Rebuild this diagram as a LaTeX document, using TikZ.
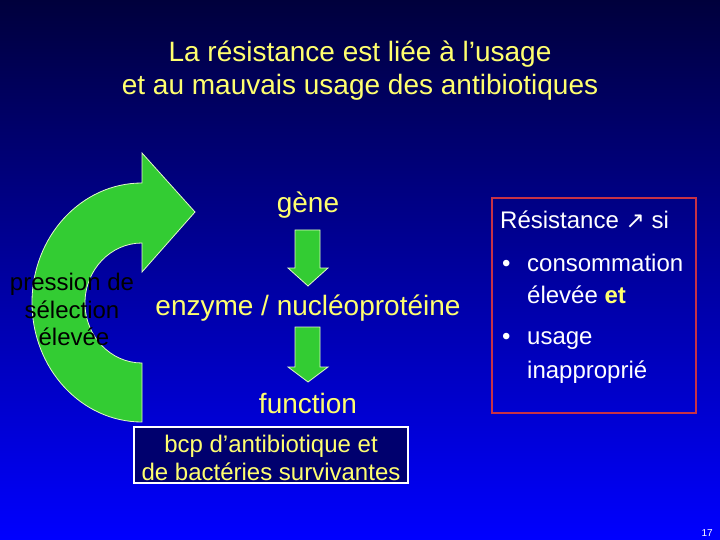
\documentclass[tikz,border=0pt]{standalone}
\usepackage{fontspec}
\setmainfont{Liberation Sans}
\newfontfamily\symfont{DejaVu Sans}
\definecolor{bgtop}{RGB}{0,0,60}
\definecolor{bgbot}{RGB}{0,0,255}
\definecolor{txtyellow}{RGB}{255,255,110}
\definecolor{arrowgreen}{RGB}{51,204,51}
\definecolor{arrowedge}{RGB}{225,250,200}
\definecolor{boxred}{RGB}{200,50,70}
\definecolor{boxnavy}{RGB}{0,0,110}
\tikzset{
  bigtext/.style={text=txtyellow,font=\fontsize{28}{34}\selectfont,inner sep=0pt},
  midtext/.style={text=white,font=\fontsize{24}{28}\selectfont,inner sep=0pt},
  lefttext/.style={text=black,font=\fontsize{24}{28}\selectfont,inner sep=0pt},
  greenarrow/.style={fill=arrowgreen,draw=arrowedge,line width=0.8pt,line join=miter},
  redbox/.style={draw=boxred,line width=2pt},
  navybox/.style={draw=white,fill=boxnavy,line width=1.2pt}
}
\begin{document}
\begin{tikzpicture}[x=1pt,y=-1pt]
\useasboundingbox (0,0) rectangle (720,540);
\shade[top color=bgtop,bottom color=bgbot] (0,0) rectangle (720,540);

% title
\node[bigtext,anchor=base] (t1) at (360,62) {La résistance est liée à l’usage};
\node[bigtext,anchor=base] (t2) at (360,95) {et au mauvais usage des antibiotiques};

% big curved arrow
\draw[greenarrow] (142,422) -- (142,363)
  arc[start angle=90,end angle=270,x radius=57,y radius=60]
  -- (142,272) -- (195,212) -- (142,153) -- (142,183)
  arc[start angle=270,end angle=90,x radius=110,y radius=119.5] -- cycle;

\node[lefttext,anchor=base] (l1) at (72,290) {pression de};
\node[lefttext,anchor=base] (l2) at (72,318) {sélection};
\node[lefttext,anchor=base] (l3) at (74,345) {élevée};

% middle column
\node[bigtext,anchor=base] (gene) at (308,212) {gène};
\node[bigtext,anchor=base] (enz) at (308,315) {enzyme / nucléoprotéine};
\node[bigtext,anchor=base] (func) at (308,413) {function};

\draw[greenarrow] (295,230) -- (320,230) -- (320,268) -- (328,268) -- (308,286) -- (288,268) -- (295,268) -- cycle;
\draw[greenarrow] (295,327) -- (320,327) -- (320,367) -- (328,367) -- (308,382) -- (288,367) -- (295,367) -- cycle;

% right box
\draw[redbox] (492,198) rectangle (696,413);
\node[midtext,anchor=base west] (r0) at (500,229) {Résistance {\symfont\fontsize{23}{26}\selectfont ↗} si};
\node[midtext,anchor=base west] (b1) at (502,271) {•};
\node[midtext,anchor=base west] (r1) at (527,271) {consommation};
\node[midtext,anchor=base west] (r2) at (527,303) {élevée \textcolor{txtyellow}{\bfseries et}};
\node[midtext,anchor=base west] (b2) at (502,344) {•};
\node[midtext,anchor=base west] (r3) at (527,344) {usage};
\node[midtext,anchor=base west] (r4) at (527,378) {inapproprié};

% bottom box
\draw[navybox] (134,427) rectangle (408,483);
\node[midtext,text=txtyellow,anchor=base] (c1) at (271,452) {bcp d’antibiotique et};
\node[midtext,text=txtyellow,anchor=base] (c2) at (271,480) {de bactéries survivantes};

% page number
\node[text=white,font=\fontsize{10}{12}\selectfont,inner sep=0pt,anchor=base east] (pg) at (713,536) {17};
\end{tikzpicture}
\end{document}
